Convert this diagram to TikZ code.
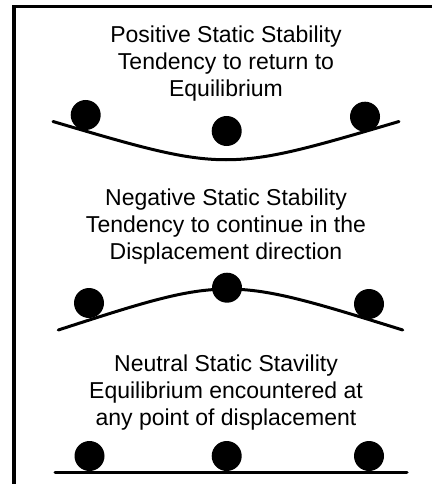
\documentclass[tikz,border=0pt]{standalone}
\usepackage{fontspec}
\setmainfont{Liberation Sans}

\begin{document}
\begin{tikzpicture}[
    x=1pt, y=-1pt,
    % --- STYLES ---
    caption/.style={
        align=center, inner sep=0pt,
        font=\fontsize{23}{27}\selectfont
    },
    ball/.style={circle, fill=black, minimum size=30pt, inner sep=0pt},
    track/.style={line width=3pt, line cap=round},
    frame/.style={line width=3.5pt}
]

\useasboundingbox (0,0) rectangle (432,484);

% ===== 1. FRAME =====
\draw[frame] (14,484) -- (14,6.5) -- (432,6.5);

% ===== 2. POSITIVE STABILITY =====
% (anchor=base: đường chân chữ của dòng cuối)
\node[caption, anchor=base] (posText) at (226,96) {Positive Static Stability\\ Tendency to return to\\ Equilibrium};

% Lòng chảo
\draw[track] (53,121.5) .. controls (226,172.5) .. (399,121.5);

\node[ball] (posL) at (85.7,115) {};
\node[ball] (posM) at (226.7,131) {};
\node[ball] (posR) at (365,116.7) {};

% ===== 3. NEGATIVE STABILITY =====
\node[caption, anchor=base] (negText) at (226,259) {Negative Static Stability\\ Tendency to continue in the\\ Displacement direction};

% Mặt lồi
\draw[track] (58.3,330) .. controls (227,275.4) .. (402.7,330);

\node[ball] (negL) at (89,303) {};
\node[ball] (negM) at (227,287.7) {};
\node[ball] (negR) at (369,304) {};

% ===== 4. NEUTRAL STABILITY =====
\node[caption, anchor=base] (neuText) at (226,425.5) {Neutral Static Stavility\\ Equilibrium encountered at\\ any point of displacement};

% Mặt phẳng
\draw[track] (55,472) -- (407,472);

\node[ball] (neuL) at (89.5,456) {};
\node[ball] (neuM) at (226.7,456) {};
\node[ball] (neuR) at (369,456) {};

\end{tikzpicture}
\end{document}
